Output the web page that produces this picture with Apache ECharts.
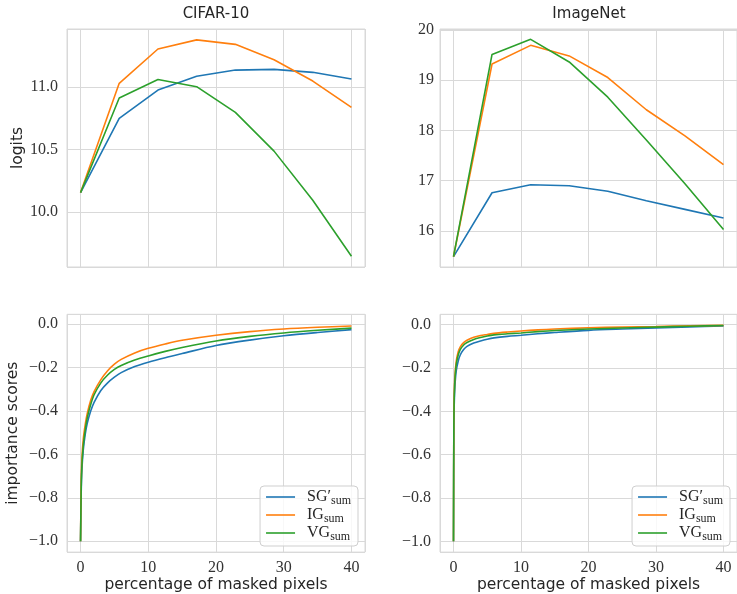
<!DOCTYPE html>
<html>
<head>
<meta charset="utf-8">
<script src="https://cdn.jsdelivr.net/npm/echarts@6/dist/echarts.min.js"></script>
<style>
  html, body { margin: 0; padding: 0; background: #fff; }
  #chart { width: 737px; height: 594px; }
</style>
</head>
<body>
<div id="chart"></div>
<script>
// Methods, in drawing order
const methodNames = ['SG\u2032', 'IG', 'VG'];
const methodColors = ['#1f77b4', '#ff7f0e', '#2ca02c'];

// Logits vs. percentage of masked pixels
const logitX = [0, 5.71, 11.43, 17.14, 22.86, 28.57, 34.29, 40];
const cifarLogitSG = [10.155, 10.749, 10.976, 11.086, 11.136, 11.142, 11.118, 11.064];
const cifarLogitIG = [10.155, 11.030, 11.305, 11.378, 11.342, 11.219, 11.048, 10.837];
const cifarLogitVG = [10.155, 10.912, 11.061, 11.003, 10.797, 10.487, 10.094, 9.645];
const imagenetLogitSG = [15.49, 16.76, 16.92, 16.90, 16.79, 16.60, 16.43, 16.26];
const imagenetLogitIG = [15.49, 19.32, 19.69, 19.48, 19.05, 18.41, 17.89, 17.32];
const imagenetLogitVG = [15.49, 19.51, 19.81, 19.36, 18.66, 17.81, 16.94, 16.03];

// Importance scores vs. percentage of masked pixels
const cifarScoreX = [0, 0.1, 0.2, 0.4, 0.7, 1, 1.5, 2, 3, 4, 5, 6, 8, 10, 12.5, 15, 20, 25, 30, 35, 40];
const cifarScoreSG = [-1.0, -0.77, -0.67, -0.58, -0.505, -0.455, -0.40, -0.36, -0.305, -0.27, -0.244, -0.223, -0.195, -0.175, -0.154, -0.135, -0.098, -0.073, -0.053, -0.038, -0.025];
const cifarScoreIG = [-1.0, -0.72, -0.62, -0.53, -0.46, -0.41, -0.35, -0.31, -0.255, -0.214, -0.184, -0.162, -0.132, -0.111, -0.091, -0.074, -0.051, -0.034, -0.022, -0.014, -0.008];
const cifarScoreVG = [-1.0, -0.75, -0.65, -0.56, -0.485, -0.43, -0.37, -0.325, -0.27, -0.234, -0.208, -0.19, -0.165, -0.146, -0.125, -0.107, -0.077, -0.056, -0.040, -0.028, -0.018];

const imagenetScoreX = [0, 0.05, 0.1, 0.2, 0.4, 0.7, 1, 1.5, 2, 3, 4, 5, 6, 8, 10, 12.5, 15, 20, 25, 30, 35, 40];
const imagenetScoreSG = [-1.0, -0.50, -0.38, -0.29, -0.215, -0.168, -0.14, -0.115, -0.10, -0.085, -0.075, -0.067, -0.061, -0.054, -0.049, -0.042, -0.036, -0.026, -0.020, -0.015, -0.010, -0.006];
const imagenetScoreIG = [-1.0, -0.45, -0.33, -0.24, -0.17, -0.125, -0.102, -0.083, -0.072, -0.058, -0.050, -0.045, -0.040, -0.034, -0.029, -0.024, -0.020, -0.014, -0.011, -0.008, -0.005, -0.003];
const imagenetScoreVG = [-1.0, -0.47, -0.35, -0.26, -0.185, -0.14, -0.115, -0.094, -0.082, -0.068, -0.059, -0.052, -0.047, -0.042, -0.038, -0.032, -0.027, -0.020, -0.015, -0.011, -0.007, -0.004];

const panelTitles = ['CIFAR-10', 'ImageNet'];
const xAxisTitle = 'percentage of masked pixels';
const logitAxisTitle = 'logits';
const scoreAxisTitle = 'importance scores';

const SERIF = "'Liberation Serif', 'DejaVu Serif', serif";
const SANS = "'DejaVu Sans', 'Noto Sans', sans-serif";
const TEXT = '#262626';
const GRID_LINE = '#d9d9d9';

const zip = (xs, ys) => xs.map((x, i) => [x, ys[i]]);
const minus = (s) => s.replace('-', '\u2212');
const fmtScore = v => Math.abs(v) < 1e-9 ? '0.0' : minus(v.toFixed(1));

const panels = [
  { grid: { left: 67, top: 29, width: 298, height: 238 }, x: logitX, ys: [cifarLogitSG, cifarLogitIG, cifarLogitVG],
    yMin: 9.559, yMax: 11.465, step: 0.5, fmt: v => v.toFixed(1), labelMargin: 9, xLabels: false, smooth: false,
    yName: logitAxisTitle, yNameGap: 41 },
  { grid: { left: 440, top: 29, width: 297.5, height: 238 }, x: logitX, ys: [imagenetLogitSG, imagenetLogitIG, imagenetLogitVG],
    yMin: 15.285, yMax: 20.015, step: 1, fmt: v => String(Math.round(v)), labelMargin: 6, xLabels: false, smooth: false },
  { grid: { left: 67, top: 314.3, width: 298, height: 239 }, x: cifarScoreX, ys: [cifarScoreSG, cifarScoreIG, cifarScoreVG],
    yMin: -1.0498, yMax: 0.0458, step: 0.2, fmt: fmtScore, labelMargin: 9, xLabels: true, smooth: true,
    yName: scoreAxisTitle, yNameGap: 46 },
  { grid: { left: 440, top: 314.3, width: 297.5, height: 239 }, x: imagenetScoreX, ys: [imagenetScoreSG, imagenetScoreIG, imagenetScoreVG],
    yMin: -1.0498, yMax: 0.048, step: 0.2, fmt: fmtScore, labelMargin: 9, xLabels: true, smooth: true }
];

const grids = panels.map(p => Object.assign({
  show: true, borderColor: GRID_LINE, borderWidth: 1, backgroundColor: 'transparent', containLabel: false
}, p.grid));

const xAxes = panels.map((p, i) => ({
  type: 'value', gridIndex: i, min: -2, max: 42, minInterval: 10, maxInterval: 10,
  axisLine: { show: false }, axisTick: { show: false },
  splitLine: { show: true, lineStyle: { color: GRID_LINE, width: 1 } },
  axisLabel: { show: p.xLabels, showMinLabel: false, showMaxLabel: false, margin: 8,
    fontFamily: SERIF, fontSize: 16, color: '#333', formatter: v => String(Math.round(v)) },
  name: p.xLabels ? xAxisTitle : '', nameLocation: 'middle', nameGap: 17,
  nameTextStyle: { fontFamily: SANS, fontSize: 15.5, color: TEXT }
}));

const yAxes = panels.map((p, i) => ({
  type: 'value', gridIndex: i, min: p.yMin, max: p.yMax, minInterval: p.step, maxInterval: p.step,
  axisLine: { show: false }, axisTick: { show: false },
  splitLine: { show: true, lineStyle: { color: GRID_LINE, width: 1 } },
  axisLabel: { showMinLabel: false, showMaxLabel: false, margin: p.labelMargin,
    fontFamily: SERIF, fontSize: 16, color: '#333', formatter: p.fmt },
  name: p.yName || '', nameLocation: 'middle', nameGap: p.yNameGap || 0,
  nameTextStyle: { fontFamily: SANS, fontSize: 15.5, color: TEXT }
}));

const series = [];
panels.forEach((p, i) => {
  p.ys.forEach((ys, k) => {
    series.push({
      type: 'line', name: methodNames[k], xAxisIndex: i, yAxisIndex: i,
      data: zip(p.x, ys), symbol: 'none', color: methodColors[k],
      smooth: p.smooth ? 0.3 : false,
      lineStyle: { width: 1.6, color: methodColors[k] }, itemStyle: { color: methodColors[k] },
      z: 2 + k, animation: false, silent: true
    });
  });
});

const legendRich = {
  gap: { width: 7 },
  m: { fontFamily: SERIF, fontSize: 16, color: TEXT, lineHeight: 20 },
  s: { fontFamily: SERIF, fontSize: 12, color: TEXT, lineHeight: 12, verticalAlign: 'bottom' }
};
const makeLegend = (right) => ({
  data: methodNames, orient: 'vertical', right: right, bottom: 48,
  icon: 'rect', itemWidth: 29, itemHeight: 1.6, itemGap: 0,
  padding: [3, 7, 3, 6], backgroundColor: 'rgba(255,255,255,0.8)',
  borderColor: '#cfcfcf', borderWidth: 1, borderRadius: 4,
  selectedMode: false,
  formatter: n => '{gap|}{m|' + n + '}{s|sum}',
  textStyle: { fontFamily: SERIF, fontSize: 16, color: TEXT, rich: legendRich }
});

const titles = panelTitles.map((t, i) => ({
  type: 'text', x: i === 0 ? 216 : 589, y: 14,
  style: { text: t, fontFamily: SANS, fontSize: 15, fill: TEXT, align: 'center', verticalAlign: 'middle' }
}));

const chart = echarts.init(document.getElementById('chart'), null, { renderer: 'canvas' });
chart.setOption({
  animation: false,
  backgroundColor: '#ffffff',
  grid: grids,
  xAxis: xAxes,
  yAxis: yAxes,
  legend: [makeLegend(379), makeLegend(7)],
  graphic: titles,
  series: series
});
</script>
</body>
</html>
